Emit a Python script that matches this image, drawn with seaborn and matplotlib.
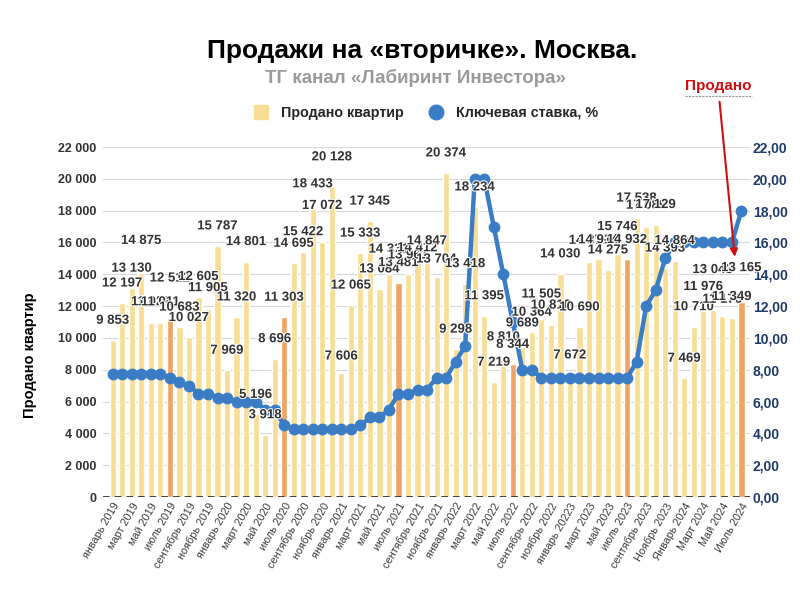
import numpy as np
import pandas as pd
import seaborn as sns
import matplotlib.pyplot as plt
from matplotlib.lines import Line2D
import matplotlib.patheffects as pe

# monthly data, Jan 2019 .. Jul 2024
month_names = ['январь', 'февраль', 'март', 'апрель', 'май', 'июнь',
               'июль', 'август', 'сентябрь', 'октябрь', 'ноябрь', 'декабрь']
months = [f'{m} {y}' for y in range(2019, 2025) for m in month_names][:67]

# bar heights as drawn
sold = [9853, 12197, 13130, 14100, 10950, 10950, 11250, 10683, 10027, 12600, 11800, 15787,
        7969, 11320, 14801, 5196, 3918, 8696, 11303, 14695, 15422, 18090, 16000, 19460,
        7800, 12065, 15333, 17345, 13084, 14000, 13481, 14000, 14900, 14700, 13800, 20374,
        9298, 13418, 18234, 11395, 7219, 8600, 8344, 9400, 10364, 11200, 10830, 14030,
        7672, 10690, 14750, 14930, 14275, 15300, 14932, 17538, 17000, 17129, 14393, 14864,
        7469, 10710, 11700, 11780, 11360, 11250, 12240]

# data labels as printed on the chart
label_vals = [9853, 12197, 13130, 14875, 11021, 11011, 12512, 10683, 10027, 12605, 11905, 15787,
              7969, 11320, 14801, 5196, 3918, 8696, 11303, 14695, 15422, 18433, 17072, 20128,
              7606, 12065, 15333, 17345, 13084, 14331, 13481, 13961, 14412, 14847, 13704, 20374,
              9298, 13418, 18234, 11395, 7219, 8810, 8344, 9689, 10364, 11505, 10810, 14030,
              7672, 10690, 14879, 14914, 14275, 15746, 14932, 17538, 17089, 17129, 14393, 14864,
              7469, 10710, 11976, 13043, 11176, 11349, 13165]

# key rate, %
rate = [7.75, 7.75, 7.75, 7.75, 7.75, 7.75, 7.5, 7.25, 7.0, 6.5, 6.5, 6.25,
        6.25, 6.0, 6.0, 6.0, 5.5, 5.5, 4.5, 4.25, 4.25, 4.25, 4.25, 4.25,
        4.25, 4.25, 4.5, 5.0, 5.0, 5.5, 6.5, 6.5, 6.75, 6.75, 7.5, 7.5,
        8.5, 9.5, 20.0, 20.0, 17.0, 14.0, 11.0, 8.0, 8.0, 7.5, 7.5, 7.5,
        7.5, 7.5, 7.5, 7.5, 7.5, 7.5, 7.5, 8.5, 12.0, 13.0, 15.0, 16.0,
        16.0, 16.0, 16.0, 16.0, 16.0, 16.0, 18.0]

tick_labels = ['январь 2019', 'март 2019', 'май 2019', 'июль 2019', 'сентябрь 2019', 'ноябрь 2019',
               'январь 2020', 'март 2020', 'май 2020', 'июль 2020', 'сентябрь 2020', 'ноябрь 2020',
               'январь 2021', 'март 2021', 'май 2021', 'июль 2021', 'сентябрь 2021', 'ноябрь 2021',
               'январь 2022', 'март 2022', 'май 2022', 'июль 2022', 'сентябрь 2022', 'ноябрь 2022',
               'январь 20223', 'март 2023', 'май 2023', 'июль 2023', 'сентябрь 2023', 'Ноябрь 2023',
               'Январь 2024', 'Март 2024', 'Май 2024', 'Июль 2024']

yellow = '#f8de94'
orange = '#f1a462'
blue = '#3b7dc5'
colors = [orange if m.startswith('июль') else yellow for m in months]

sns.set_style('white')
plt.rcParams['font.family'] = ['Liberation Sans', 'DejaVu Sans']

fig = plt.figure(figsize=(8, 6.01), dpi=100)
ax = fig.add_axes([0.129, 0.173, 0.8085, 0.5824])

df = pd.DataFrame({'month': months, 'sold': sold})
sns.barplot(data=df, x='month', y='sold', hue='month', palette=dict(zip(months, colors)),
            legend=False, width=0.65, saturation=1, ax=ax, zorder=2)

ax.set_ylim(0, 22000)
ax.set_yticks(range(0, 22001, 2000))
ax.set_yticklabels([f'{v:,}'.replace(',', ' ') for v in range(0, 22001, 2000)],
                   fontsize=9, fontweight='bold', color='#333333')
ax.yaxis.grid(True, color='#d9d9d9', lw=0.8, zorder=0)
ax.set_axisbelow(True)
ax.axhline(0, color='#222222', lw=1.2, ls=(0, (4, 3)), zorder=3)
ax.tick_params(axis='y', length=0, pad=5)
ax.set_xticks(range(0, 67, 2))
ax.set_xticklabels(tick_labels, rotation=60, ha='right', rotation_mode='anchor',
                   fontsize=7.8, color='#3a3a3a')
ax.tick_params(axis='x', length=0, pad=3)
ax.set_xlabel('')
ax.set_ylabel('')
for s in ax.spines.values():
    s.set_visible(False)

ax2 = ax.twinx()
sns.lineplot(x=np.arange(len(rate)), y=rate, ax=ax2, color=blue, lw=3.2,
             marker='o', markersize=8.5, markeredgewidth=0)
ax2.set_ylim(0, 22)
ax2.set_yticks(range(0, 23, 2))
ax2.set_yticklabels([f'{v:.2f}'.replace('.', ',') for v in range(0, 23, 2)],
                    fontsize=10, fontweight='bold', color='#1f3a68')
ax2.tick_params(axis='y', length=0, pad=2)
ax2.set_ylabel('')
for s in ax2.spines.values():
    s.set_visible(False)
ax.set_xlim(-1, 66.9)
ax2.set_xlim(-1, 66.9)

# data labels, drawn above the line
for i, v in enumerate(label_vals):
    ax2.annotate(f'{v:,}'.replace(',', ' '), xy=(i, v / 1000), xytext=(0, 14),
                 textcoords='offset points', ha='center', va='center',
                 fontsize=9.5, fontweight='bold', color='#333333',
                 path_effects=[pe.withStroke(linewidth=1.5, foreground='white')])

fig.text(0.528, 0.915, 'Продажи на «вторичке». Москва.', ha='center', va='center',
         fontsize=19, fontweight='bold', color='black')
fig.text(0.519, 0.871, 'ТГ канал «Лабиринт Инвестора»', ha='center', va='center',
         fontsize=13.5, fontweight='bold', color='#9a9a9a')
fig.text(0.038, 0.409, 'Продано квартир', rotation=90, ha='center', va='center',
         fontsize=10.5, fontweight='bold', color='black')

handles = [Line2D([], [], ls='', marker='s', markersize=10.5, color=yellow),
           Line2D([], [], ls='', marker='o', markersize=10.5, color=blue)]
fig.legend(handles, ['Продано квартир', 'Ключевая ставка, %'], loc='center',
           bbox_to_anchor=(0.528, 0.812), ncol=2, frameon=False, handletextpad=0.4,
           columnspacing=1.3, prop={'weight': 'bold', 'size': 10.3})

ax2.annotate('Продано', xy=(65.3, 15.1), xycoords='data',
             xytext=(0.8975, 0.857), textcoords='figure fraction',
             ha='center', va='center', fontsize=11, fontweight='bold', color='#d01010',
             arrowprops=dict(arrowstyle='-|>', color='#d01010', lw=1.5, shrinkA=4, shrinkB=0))
fig.add_artist(Line2D([0.856, 0.94], [0.84, 0.84], color='#999999', lw=0.8, ls=(0, (2, 1))))

fig.savefig('out.png', dpi=100)
